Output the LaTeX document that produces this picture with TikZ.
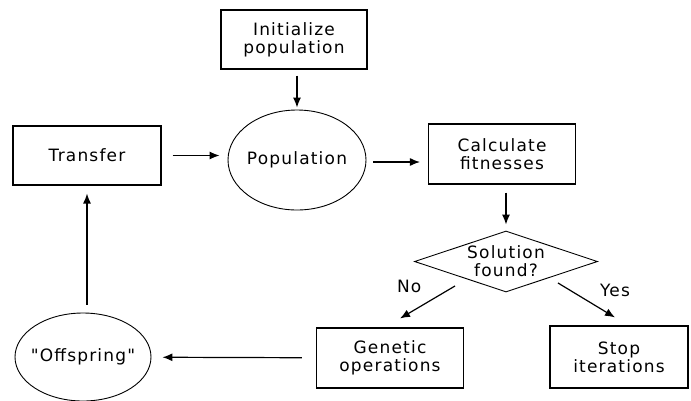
\documentclass[tikz,border=0pt]{standalone}
\usepackage{fontspec}
\setmainfont{DejaVu Sans}[Ligatures=TeXOff, LetterSpace=7]
\usetikzlibrary{shapes.geometric,arrows.meta}
\tikzset{
  every node/.style={font=\fontsize{17}{18}\selectfont, align=center, inner sep=0pt},
  stepbox/.style={draw, rectangle, line width=1.1pt},
  pool/.style={draw, ellipse, inner xsep=-8pt, line width=0.9pt},
  test/.style={draw, diamond, aspect=3, inner sep=1.5pt, line width=0.9pt},
  flow/.style={-{Latex[length=10pt,width=8pt]}, line width=1.2pt}
}
\begin{document}
\begin{tikzpicture}[x=1pt,y=-1pt]
%one unit is one pixel of the 691x400 picture, y runs downwards
\useasboundingbox (0,0) rectangle (691,400);
\node [stepbox, minimum width=146, minimum height=59] (init) at (294,39.5) {Initialize\\population};
\node [pool, minimum width=138, minimum height=100] (pop) at (297,160) {Population};
\node [stepbox, minimum width=148, minimum height=59] (transfer) at (87,155.5) {Transfer};
\node [stepbox, minimum width=147, minimum height=60] (calc) at (502,154) {Calculate\\fitnesses};
\node [test] (sol) at (506,261.5) {Solution\\found?};
\node [stepbox, minimum width=147, minimum height=60] (gen) at (390,358) {Genetic\\operations};
\node [stepbox, minimum width=138, minimum height=62] (stop) at (619,357) {Stop\\iterations};
\node [pool, minimum width=136, minimum height=88] (off) at (83,357) {"Offspring"};
\draw [flow, shorten <=6pt, shorten >=2pt] (pop.north |- init.south) -- (pop.north);
\draw [flow, shorten <=11pt, shorten >=8pt] (transfer) -- (transfer -| pop.west);
\draw [flow, shorten <=7pt, shorten >=8pt] ([yshift=-2]pop.east) -- ([yshift=-2]pop.east -| calc.west);
\draw [flow, shorten <=8pt, shorten >=6pt] (sol.north |- calc.south) -- (sol.north);
\draw [flow] ([shift={(-5,9)}]sol.south west) -- node [pos=0, left=33pt] {No} ([shift={(10,-9)}]gen.north);
\draw [flow] ([shift={(6,6)}]sol.south east) -- node [pos=1, above=20pt] {Yes} ([shift={(-4,-8)}]stop.north);
\draw [flow, shorten <=14pt, shorten >=11pt] (gen) -- (off);
\draw [flow, shorten <=8pt, shorten >=8pt] (off.north -| transfer) -- (transfer);
\end{tikzpicture}
\end{document}
